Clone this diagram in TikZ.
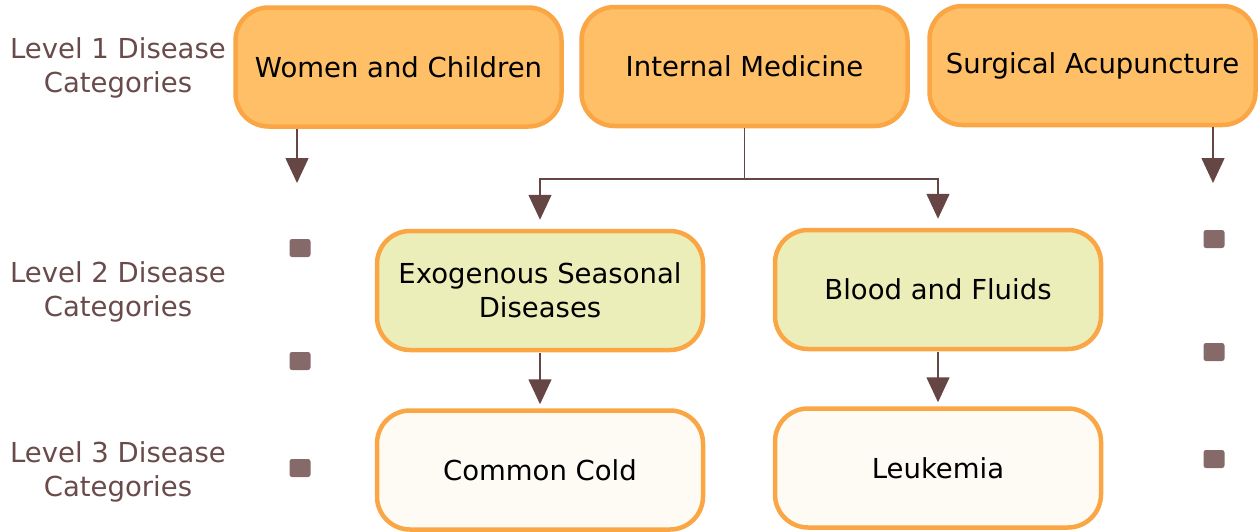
\documentclass[tikz,border=0pt]{standalone}
\usepackage{fontspec}
\setmainfont{DejaVu Sans}
\usetikzlibrary{arrows.meta}
\definecolor{topfill}{HTML}{FEBF66}
\definecolor{midfill}{HTML}{EBEEB9}
\definecolor{lowfill}{HTML}{FEFBF4}
\definecolor{edgeorange}{HTML}{FBA645}
\definecolor{linkbrown}{HTML}{664545}
\definecolor{labelbrown}{HTML}{6A4B4B}
\definecolor{dotbrown}{HTML}{866A6A}
\begin{document}
\begin{tikzpicture}[x=1pt,y=-1pt,
  catbox/.style={draw=edgeorange, line width=4.5pt, rounded corners=33pt,
    minimum width=326pt, minimum height=119pt, align=center,
    font=\fontsize{27.5}{34}\selectfont, text=black},
  topbox/.style={catbox, fill=topfill},
  midbox/.style={catbox, fill=midfill},
  lowbox/.style={catbox, fill=lowfill},
  levellabel/.style={align=center, text=labelbrown, font=\fontsize{27.5}{34}\selectfont},
  link/.style={draw=linkbrown, line width=1.5pt,
    -{Triangle[width=23pt,length=25pt]}},
  dot/.style={fill=dotbrown, rounded corners=2.5pt, minimum width=21pt,
    minimum height=18pt, inner sep=0pt}
]
\useasboundingbox (0,0) rectangle (1258,531);

% level labels
\node[levellabel] (l1) at (118,68) {Level 1 Disease\\Categories};
\node[levellabel] (l2) at (118,292) {Level 2 Disease\\Categories};
\node[levellabel] (l3) at (118,472) {Level 3 Disease\\Categories};

% level 1
\node[topbox] (women) at (398.5,67) {Women and Children};
\node[topbox] (internal) at (744.5,66.5) {Internal Medicine};
\node[topbox] (surgical) at (1092.5,65.5) {Surgical Acupuncture};

% level 2
\node[midbox] (exo) at (540,290.5) {Exogenous Seasonal\\Diseases};
\node[midbox] (blood) at (938,289.5) {Blood and Fluids};

% level 3
\node[lowbox] (cold) at (540,470) {Common Cold};
\node[lowbox] (leuk) at (938,468) {Leukemia};

% placeholder markers
\node[dot] (dl1) at (300,248) {};
\node[dot] (dl2) at (300,361) {};
\node[dot] (dl3) at (300,468) {};
\node[dot] (dr1) at (1214,239) {};
\node[dot] (dr2) at (1214,352) {};
\node[dot] (dr3) at (1214,459) {};

% free arrow ends
\coordinate (wend) at (297,183);
\coordinate (send) at (1213,183);

% connectors
\draw[link] (women.south -| wend) -- (wend);
\draw[link] (surgical.south -| send) -- (send);
\draw[link, shorten >=9pt] (internal.south) |- (540,179) -- (exo.north);
\draw[link, shorten >=9pt] (internal.south) |- (938,179) -- (blood.north);
\draw[link, shorten <=1pt, shorten >=4pt] (exo.south) -- (cold.north);
\draw[link, shorten <=1pt, shorten >=4pt] (blood.south) -- (leuk.north);
\end{tikzpicture}
\end{document}
